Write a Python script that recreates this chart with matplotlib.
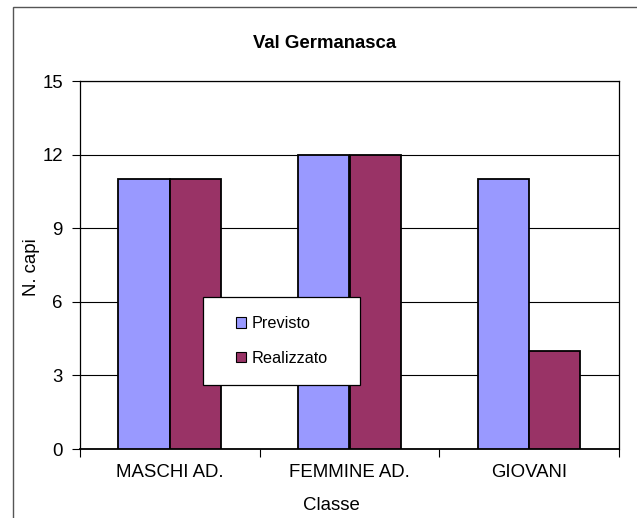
import numpy as np
import matplotlib
matplotlib.use("Agg")
import matplotlib.pyplot as plt
from matplotlib.patches import Rectangle, Patch

plt.rcParams['font.family'] = ['Liberation Sans', 'DejaVu Sans']

# --- DATI ---
categorie = ["MASCHI AD.", "FEMMINE AD.", "GIOVANI"]
previsto = [11, 12, 11]
realizzato = [11, 12, 4]
y_ticks = [0, 3, 6, 9, 12, 15]

COL_PREV = "#9999FF"
COL_REAL = "#993366"

fig = plt.figure(figsize=(6.37, 5.18), dpi=100)
ax = fig.add_axes([80 / 637, 1 - 449 / 518, 539 / 637, 368 / 518])

x = np.arange(len(categorie))
w = 1 / 3.5
ax.bar(x - w / 2, previsto, w, color=COL_PREV, edgecolor="black", linewidth=1.3, zorder=3)
ax.bar(x + w / 2, realizzato, w, color=COL_REAL, edgecolor="black", linewidth=1.3, zorder=3)

ax.set_xlim(-0.5, len(categorie) - 0.5)
ax.set_ylim(0, 15)
ax.set_yticks(y_ticks)
ax.yaxis.grid(True, color="black", linewidth=0.8, zorder=1)
ax.tick_params(axis="y", length=5.8, width=0.8, pad=6.5, labelsize=13.4)

ax.set_xticks(x)
ax.set_xticklabels(categorie)
ax.set_xticks(np.arange(len(categorie) + 1) - 0.5, minor=True)
ax.tick_params(axis="x", which="major", length=0, pad=11, labelsize=13.4)
ax.tick_params(axis="x", which="minor", length=5.5, width=0.8)

for s in ax.spines.values():
    s.set_color("black")
    s.set_linewidth(0.9)
ax.spines["bottom"].set_linewidth(1.3)

# titoli
fig.text(325 / 637, 1 - 43 / 518, "Val Germanasca", ha="center", va="center",
         fontsize=13.4, fontweight="bold")
fig.text(331.5 / 637, 1 - 505 / 518, "Classe", ha="center", va="center", fontsize=13.4)
fig.text(32 / 637, 1 - 267 / 518, "N. capi", ha="center", va="center",
         fontsize=13.4, rotation=90)

# riquadro della legenda
lx0, lx1 = (203 - 80) / 539, (360 - 80) / 539
ly0, ly1 = (449 - 385) / 368, (449 - 297) / 368
ax.add_patch(Rectangle((lx0, ly0), lx1 - lx0, ly1 - ly0, transform=ax.transAxes,
                       facecolor="white", edgecolor="black", linewidth=0.9, zorder=5))
handles = [Patch(facecolor=COL_PREV, edgecolor="black", linewidth=0.8),
           Patch(facecolor=COL_REAL, edgecolor="black", linewidth=0.8)]
leg = ax.legend(handles, ["Previsto", "Realizzato"], loc="center",
                bbox_to_anchor=((lx0 + lx1) / 2, (ly0 + ly1) / 2),
                frameon=False, fontsize=11.7, handlelength=0.65, handleheight=0.65,
                handletextpad=0.3, labelspacing=1.2)
leg.set_zorder(6)

# cornice del grafico
fig.patches.append(Rectangle((12.5 / 637, -0.02), 1.0, 1.02 - 7 / 518,
                             transform=fig.transFigure, fill=False,
                             edgecolor="#555555", linewidth=1.0))

fig.savefig("out.png", dpi=100)
